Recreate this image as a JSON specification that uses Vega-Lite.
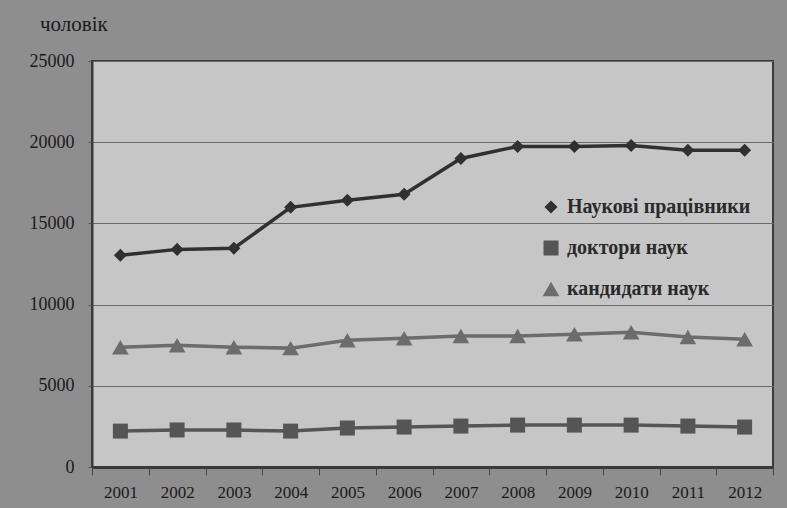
{
  "$schema": "https://vega.github.io/schema/vega-lite/v6.json",
  "width": 681,
  "height": 406,
  "autosize": {"type": "none"},
  "padding": {"left": 92, "top": 61, "right": 14, "bottom": 41},
  "background": "#8e8e8e",
  "title": {"text": "чоловік", "anchor": "start", "frame": "group", "dx": -52, "offset": 17, "font": "Liberation Serif", "fontSize": 21, "fontWeight": "normal", "color": "#1a1a1a"},
  "config": {
    "view": {"fill": "#c6c6c6", "stroke": "#3a3a3a", "strokeWidth": 2},
    "font": "Liberation Serif"
  },
  "data": {"values": [
    {"year": "2001", "series": "Наукові працівники", "value": 13040},
    {"year": "2002", "series": "Наукові працівники", "value": 13400},
    {"year": "2003", "series": "Наукові працівники", "value": 13470},
    {"year": "2004", "series": "Наукові працівники", "value": 15990},
    {"year": "2005", "series": "Наукові працівники", "value": 16420},
    {"year": "2006", "series": "Наукові працівники", "value": 16790},
    {"year": "2007", "series": "Наукові працівники", "value": 19000},
    {"year": "2008", "series": "Наукові працівники", "value": 19740},
    {"year": "2009", "series": "Наукові працівники", "value": 19740},
    {"year": "2010", "series": "Наукові працівники", "value": 19800},
    {"year": "2011", "series": "Наукові працівники", "value": 19500},
    {"year": "2012", "series": "Наукові працівники", "value": 19500},
    {"year": "2001", "series": "доктори наук", "value": 2210},
    {"year": "2002", "series": "доктори наук", "value": 2280},
    {"year": "2003", "series": "доктори наук", "value": 2280},
    {"year": "2004", "series": "доктори наук", "value": 2210},
    {"year": "2005", "series": "доктори наук", "value": 2400},
    {"year": "2006", "series": "доктори наук", "value": 2460},
    {"year": "2007", "series": "доктори наук", "value": 2520},
    {"year": "2008", "series": "доктори наук", "value": 2580},
    {"year": "2009", "series": "доктори наук", "value": 2580},
    {"year": "2010", "series": "доктори наук", "value": 2580},
    {"year": "2011", "series": "доктори наук", "value": 2520},
    {"year": "2012", "series": "доктори наук", "value": 2460},
    {"year": "2001", "series": "кандидати наук", "value": 7380},
    {"year": "2002", "series": "кандидати наук", "value": 7500},
    {"year": "2003", "series": "кандидати наук", "value": 7380},
    {"year": "2004", "series": "кандидати наук", "value": 7320},
    {"year": "2005", "series": "кандидати наук", "value": 7810},
    {"year": "2006", "series": "кандидати наук", "value": 7930},
    {"year": "2007", "series": "кандидати наук", "value": 8060},
    {"year": "2008", "series": "кандидати наук", "value": 8060},
    {"year": "2009", "series": "кандидати наук", "value": 8180},
    {"year": "2010", "series": "кандидати наук", "value": 8300},
    {"year": "2011", "series": "кандидати наук", "value": 8000},
    {"year": "2012", "series": "кандидати наук", "value": 7870}
  ]},
  "encoding": {
    "x": {"field": "year", "type": "ordinal", "bandPosition": 0.5,
      "scale": {"type": "band", "paddingInner": 0, "paddingOuter": 0},
      "axis": {"title": null, "labelAngle": 0, "tickBand": "extent", "tickSize": 8, "tickColor": "#444", "domainColor": "#3a3a3a", "domainWidth": 3, "labelFont": "Liberation Serif", "labelFontSize": 17, "labelColor": "#1a1a1a", "labelPadding": 9}},
    "y": {"field": "value", "type": "quantitative",
      "scale": {"domain": [0, 25000]},
      "axis": {"title": null, "values": [0, 5000, 10000, 15000, 20000, 25000], "format": "d", "grid": true, "gridColor": "#6a6a6a", "gridWidth": 1, "tickSize": 4, "tickColor": "#555", "domainColor": "#3a3a3a", "domainWidth": 2, "labelFont": "Liberation Serif", "labelFontSize": 18, "labelColor": "#1a1a1a", "labelPadding": 14}},
    "color": {"field": "series", "type": "nominal",
      "scale": {"domain": ["Наукові працівники", "доктори наук", "кандидати наук"], "range": ["#303030", "#555555", "#6c6c6c"]},
      "legend": {"title": null, "orient": "none", "legendX": 449, "legendY": 136, "labelFont": "Liberation Serif", "labelFontSize": 20, "labelFontWeight": "bold", "labelColor": "#2a2a2a", "labelLimit": 320, "rowPadding": 21, "symbolSize": 170, "symbolStrokeWidth": 0, "labelOffset": 6}},
    "shape": {"field": "series", "type": "nominal",
      "scale": {"domain": ["Наукові працівники", "доктори наук", "кандидати наук"], "range": ["diamond", "square", "triangle-up"]},
      "legend": null}
  },
  "layer": [
    {"mark": {"type": "line", "strokeWidth": 3.5}, "encoding": {"shape": {"value": null}}},
    {"mark": {"type": "point", "filled": true, "opacity": 1},
     "encoding": {"size": {"field": "series", "type": "nominal",
      "scale": {"domain": ["Наукові працівники", "доктори наук", "кандидати наук"], "range": [170, 280, 210]},
      "legend": null}}}
  ]
}
